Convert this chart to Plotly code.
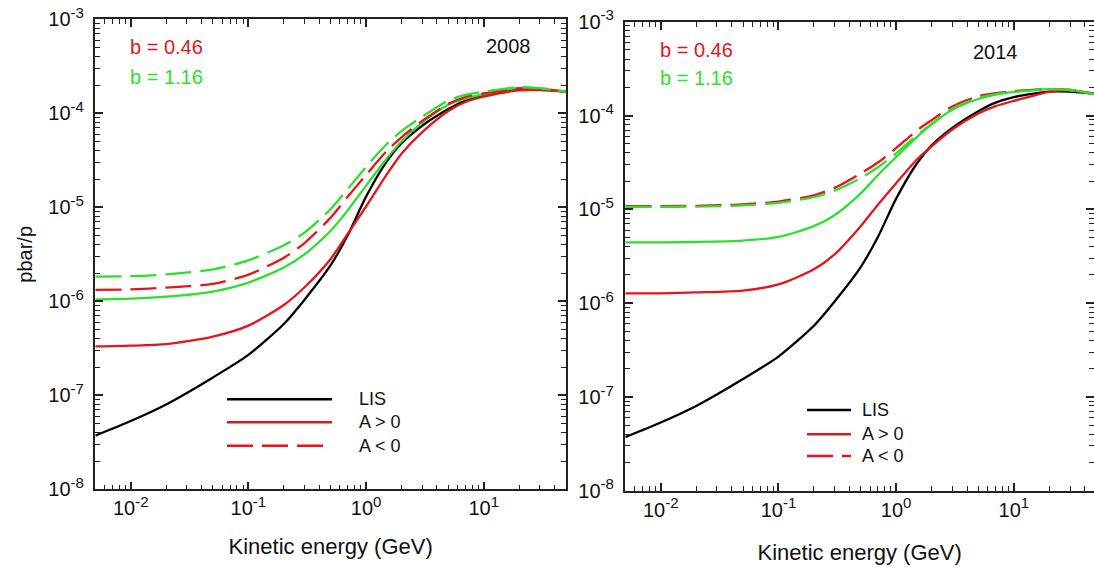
import plotly.graph_objects as go

# ---------------- data ----------------
energy = [0.005, 0.01, 0.02, 0.05, 0.1, 0.2, 0.3, 0.5, 0.7, 1, 1.5, 2, 3, 5, 7, 10, 20, 30, 50]

lis = [3.73e-8, 5.33e-8, 8.0e-8, 1.55e-7, 2.69e-7, 5.73e-7, 1.04e-6, 2.42e-6, 5.07e-6,
       1.30e-5, 3.08e-5, 4.8e-5, 7.38e-5, 1.11e-4, 1.37e-4, 1.57e-4, 1.80e-4, 1.80e-4, 1.70e-4]

# 2008 panel
red_pos_2008 = [3.31e-7, 3.37e-7, 3.5e-7, 4.21e-7, 5.51e-7, 9.14e-7, 1.41e-6, 2.82e-6, 5.25e-6,
                1.02e-5, 2.24e-5, 3.72e-5, 6.31e-5, 1.06e-4, 1.32e-4, 1.50e-4, 1.75e-4, 1.76e-4, 1.70e-4]
green_pos_2008 = [1.05e-6, 1.07e-6, 1.12e-6, 1.27e-6, 1.58e-6, 2.29e-6, 3.16e-6, 5.62e-6, 9.33e-6,
                  1.70e-5, 3.31e-5, 5.01e-5, 7.94e-5, 1.23e-4, 1.43e-4, 1.60e-4, 1.86e-4, 1.84e-4, 1.70e-4]
red_neg_2008 = [1.32e-6, 1.34e-6, 1.40e-6, 1.53e-6, 1.92e-6, 2.91e-6, 4.17e-6, 7.76e-6, 1.30e-5,
                2.21e-5, 3.97e-5, 5.56e-5, 8.3e-5, 1.26e-4, 1.49e-4, 1.63e-4, 1.84e-4, 1.81e-4, 1.70e-4]
green_neg_2008 = [1.83e-6, 1.85e-6, 1.93e-6, 2.19e-6, 2.73e-6, 3.94e-6, 5.37e-6, 9.6e-6, 1.57e-5,
                  2.70e-5, 4.71e-5, 6.46e-5, 9.2e-5, 1.37e-4, 1.57e-4, 1.70e-4, 1.89e-4, 1.85e-4, 1.70e-4]

# 2014 panel
red_pos_2014 = [1.27e-6, 1.27e-6, 1.30e-6, 1.36e-6, 1.58e-6, 2.29e-6, 3.31e-6, 6.6e-6, 1.12e-5,
                1.90e-5, 3.4e-5, 4.7e-5, 7.1e-5, 1.05e-4, 1.26e-4, 1.43e-4, 1.79e-4, 1.85e-4, 1.71e-4]
green_pos_2014 = [4.44e-6, 4.44e-6, 4.48e-6, 4.63e-6, 5.07e-6, 6.62e-6, 8.65e-6, 1.48e-5, 2.31e-5,
                  3.61e-5, 5.89e-5, 8.04e-5, 1.15e-4, 1.50e-4, 1.67e-4, 1.79e-4, 1.91e-4, 1.87e-4, 1.67e-4]
red_neg_2014 = [1.08e-5, 1.08e-5, 1.09e-5, 1.13e-5, 1.21e-5, 1.41e-5, 1.69e-5, 2.41e-5, 3.15e-5,
                4.50e-5, 6.92e-5, 8.91e-5, 1.25e-4, 1.61e-4, 1.73e-4, 1.82e-4, 1.91e-4, 1.87e-4, 1.67e-4]
green_neg_2014 = [1.06e-5, 1.06e-5, 1.07e-5, 1.10e-5, 1.17e-5, 1.35e-5, 1.58e-5, 2.15e-5, 2.81e-5,
                  3.94e-5, 6.17e-5, 8.13e-5, 1.18e-4, 1.54e-4, 1.69e-4, 1.79e-4, 1.91e-4, 1.87e-4, 1.67e-4]

SUP = '<sup><span style="font-size:15px">{}</span></sup>'
x_tickvals = [0.01, 0.1, 1, 10]
x_ticktext = ["10" + SUP.format(e) for e in ["-2", "-1", "0", "1"]]
y_tickvals = [1e-8, 1e-7, 1e-6, 1e-5, 1e-4, 1e-3]
y_ticktext = ["10" + SUP.format(e) + "&nbsp;" for e in ["-8", "-7", "-6", "-5", "-4", "-3"]]

legend_labels = ["LIS", "A > 0", "A < 0"]
b_labels = ["b = 0.46", "b = 1.16"]
years = ["2008", "2014"]

# ---------------- style ----------------
W, H = 1094, 571
RED = "#e8141c"
GREEN = "#2ee02e"
BLACK = "#000000"
AXC = "#222222"
FONT = "Liberation Sans, Arial, sans-serif"
DASH = "26px,9px"
LW = 2.3


def px(x):
    return x / W


def py(y):
    return 1 - y / H


fig = go.Figure()

panels = [
    ("x", "y", [red_pos_2008, green_pos_2008, red_neg_2008, green_neg_2008]),
    ("x2", "y2", [red_pos_2014, green_pos_2014, red_neg_2014, green_neg_2014]),
]
for xa, ya, (rp, gp, rn, gn) in panels:
    series = [
        (lis, BLACK, "solid"),
        (rp, RED, "solid"),
        (gp, GREEN, "solid"),
        (rn, RED, DASH),
        (gn, GREEN, DASH),
    ]
    for vals, col, dash in series:
        fig.add_trace(go.Scatter(
            x=energy, y=vals, xaxis=xa, yaxis=ya, mode="lines",
            line=dict(color=col, width=LW, dash=dash, shape="spline", smoothing=0.7),
            showlegend=False, hoverinfo="skip"))

minor_len = 5
major_len = 8

common_x = dict(
    type="log", showline=True, linecolor=AXC, linewidth=1.6, mirror="allticks",
    ticks="inside", ticklen=major_len, tickwidth=1.6, tickcolor=AXC,
    tickmode="array", tickvals=x_tickvals, ticktext=x_ticktext,
    tickfont=dict(family=FONT, size=20, color="#111"),
    showgrid=False, zeroline=False,
    minor=dict(ticks="inside", ticklen=minor_len, tickwidth=1.3, tickcolor=AXC,
               dtick="D1", showgrid=False),
)
common_y = dict(
    type="log", showline=True, linecolor=AXC, linewidth=1.6, mirror="allticks",
    ticks="inside", ticklen=major_len, tickwidth=1.6, tickcolor=AXC,
    tickmode="array", tickvals=y_tickvals, ticktext=y_ticktext,
    tickfont=dict(family=FONT, size=20, color="#111"),
    showgrid=False, zeroline=False, range=[-8, -3],
    minor=dict(ticks="inside", ticklen=minor_len, tickwidth=1.3, tickcolor=AXC,
               dtick="D1", showgrid=False),
)

xtitle_font = dict(family=FONT, size=22, color="#111")

fig.update_layout(
    width=W, height=H,
    margin=dict(l=0, r=0, t=0, b=0, pad=0, autoexpand=False),
    paper_bgcolor="white", plot_bgcolor="white",
    font=dict(family=FONT, color="#111"),
    xaxis=dict(common_x, domain=[px(95.3), px(566)], range=[-2.301, 1.699], anchor="y",
               title=dict(text="Kinetic energy (GeV)", font=xtitle_font, standoff=21)),
    yaxis=dict(common_y, domain=[py(489.3), py(19.3)], anchor="x",
               title=dict(text="pbar/p", font=dict(family=FONT, size=20, color="#111"),
                          standoff=10)),
    xaxis2=dict(common_x, domain=[px(625.3), 1.0], range=[-2.301, 1.681], anchor="y2",
                title=dict(text="Kinetic energy (GeV)", font=xtitle_font, standoff=25)),
    yaxis2=dict(common_y, domain=[py(490.7), py(21.7)], anchor="x2"),
)

annotations = []
shapes = []

label_pos = [
    dict(b_x=128, b_y=[47, 77], yr_x=508, yr_y=46, year=years[0]),
    dict(b_x=658, b_y=[50, 78], yr_x=995, yr_y=52, year=years[1]),
]
for lp in label_pos:
    for txt, col, yy in zip(b_labels, [RED, GREEN], lp["b_y"]):
        annotations.append(dict(text=txt, x=px(lp["b_x"]), y=py(yy), xref="paper", yref="paper",
                                xanchor="left", yanchor="middle", showarrow=False,
                                font=dict(family=FONT, size=20, color=col)))
    annotations.append(dict(text=lp["year"], x=px(lp["yr_x"]), y=py(lp["yr_y"]), xref="paper",
                            yref="paper", xanchor="center", yanchor="middle", showarrow=False,
                            font=dict(family=FONT, size=20, color="#111")))

# manual legends (long line keys)
legend_defs = [
    dict(x0=227, x1=332, tx=357, ys=[399.3, 422.3, 445.7]),
    dict(x0=807, x1=851, tx=860, ys=[410, 434.3, 456]),
]
key_styles = [(BLACK, "solid"), (RED, "solid"), (RED, DASH)]
for ld in legend_defs:
    for (col, dash), lab, yy in zip(key_styles, legend_labels, ld["ys"]):
        shapes.append(dict(type="line", xref="paper", yref="paper",
                           x0=px(ld["x0"]), x1=px(ld["x1"]), y0=py(yy), y1=py(yy),
                           line=dict(color=col, width=2.6, dash=dash)))
        annotations.append(dict(text=lab, x=px(ld["tx"]), y=py(yy), xref="paper", yref="paper",
                                xanchor="left", yanchor="middle", showarrow=False,
                                font=dict(family=FONT, size=18, color="#111")))

fig.update_layout(annotations=annotations, shapes=shapes)

fig.write_html(
    "out.html",
    config={"displayModeBar": False},
    post_script="document.body.style.margin='0px';document.body.style.overflow='hidden';",
)
